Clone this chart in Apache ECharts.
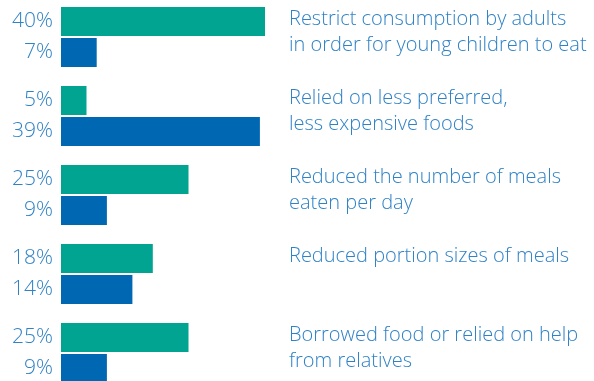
<!DOCTYPE html>
<html><head><meta charset="utf-8">
<script src="https://cdn.jsdelivr.net/npm/echarts@6/dist/echarts.min.js"></script>
<style>html,body{margin:0;padding:0;background:#fff}#c{width:594px;height:381px}</style>
</head><body><div id="c"></div>
<script>
const categories = [
  "Restrict consumption by adults\nin order for young children to eat",
  "Relied on less preferred,\nless expensive foods",
  "Reduced the number of meals\neaten per day",
  "Reduced portion sizes of meals",
  "Borrowed food or relied on help\nfrom relatives"
];
const seriesA = [40, 5, 25, 18, 25];
const seriesB = [7, 39, 9, 14, 9];

const TEXT = '#2f82c6';
const FONT = 'Open Sans';
const chart = echarts.init(document.getElementById('c'), null, {renderer: 'canvas'});
const lbl = {show: true, position: 'left', distance: 8, formatter: '{c}%', color: TEXT, fontFamily: FONT, fontSize: 21, fontWeight: 300};
chart.setOption({
  animation: false,
  grid: [
    {left: 61, top: -2.5, width: 224.4, height: 395, outerBoundsMode: 'none'},
    {left: 289, top: -33, right: 0, height: 395, outerBoundsMode: 'none'}
  ],
  xAxis: [
    {gridIndex: 0, type: 'value', min: 0, max: 44, show: false},
    {gridIndex: 1, type: 'value', show: false}
  ],
  yAxis: [
    {gridIndex: 0, type: 'category', inverse: true, data: categories, show: false},
    {gridIndex: 1, type: 'category', inverse: true, data: categories,
     axisLine: {show: false}, axisTick: {show: false}, splitLine: {show: false},
     axisLabel: {inside: true, margin: 0, align: 'left', verticalAlign: 'top', color: TEXT,
       fontFamily: FONT, fontSize: 20, lineHeight: 26, fontWeight: 300}}
  ],
  series: [
    {type: 'bar', xAxisIndex: 0, yAxisIndex: 0, data: seriesA, barWidth: 29, barGap: '7%',
     itemStyle: {color: '#00a490'}, label: lbl},
    {type: 'bar', xAxisIndex: 0, yAxisIndex: 0, data: seriesB, barWidth: 29, barGap: '7%',
     itemStyle: {color: '#0067b2'}, label: lbl}
  ]
});
</script></body></html>
